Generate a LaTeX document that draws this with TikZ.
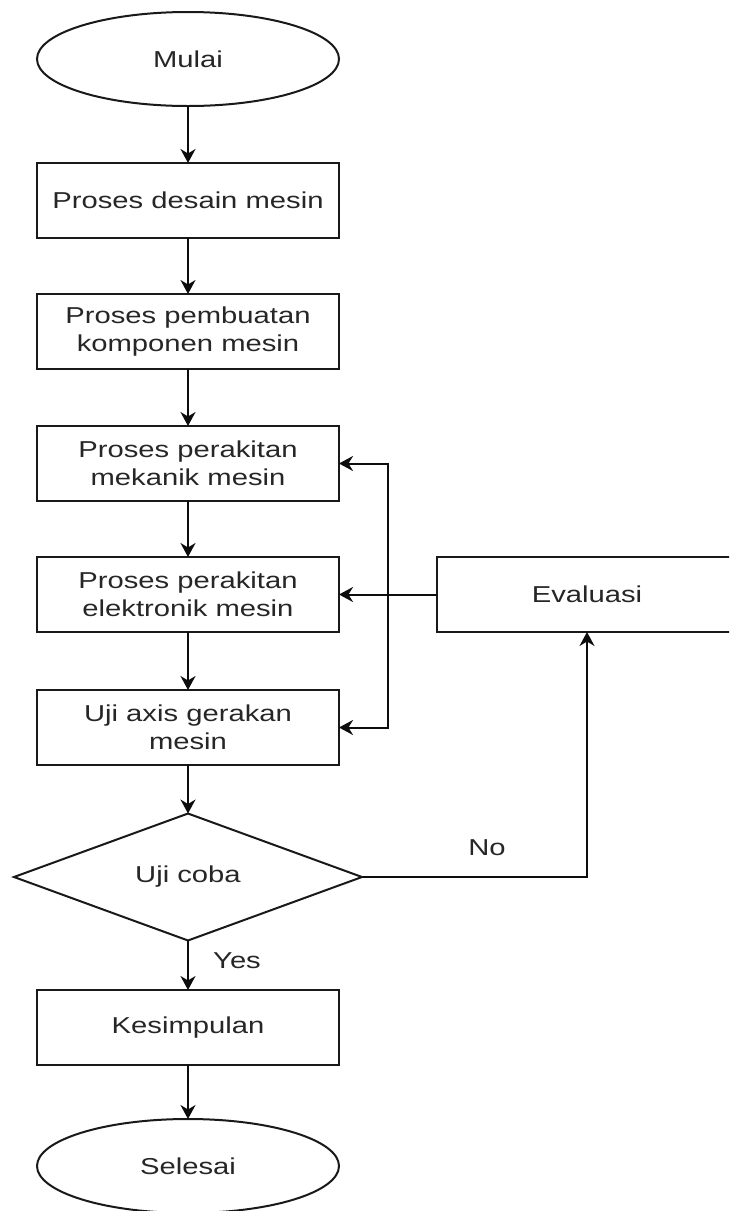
\documentclass[tikz,border=0pt]{standalone}
\usepackage{fontspec}
\setmainfont{Liberation Sans}[FakeStretch=1.27]
\usetikzlibrary{shapes.geometric,arrows.meta}
\begin{document}
\begin{tikzpicture}[x=1pt,y=-1pt,
  every node/.style={font=\fontsize{23}{28.5}\selectfont, text=black!85},
  base/.style={draw=black!90, line width=2pt, inner sep=0pt, outer sep=0pt, align=center},
  procbox/.style={base, rectangle, minimum width=302pt, minimum height=75pt},
  termin/.style={base, ellipse, minimum width=302pt, minimum height=94pt},
  decide/.style={base, diamond, minimum width=348pt, minimum height=112pt},
  tip/.style={Stealth[length=14pt,width=15pt,inset=4.5pt]},
  arr/.style={line width=2pt, draw=black!95, -{Stealth[length=14pt,width=15pt,inset=4.5pt]}},
  conn/.style={line width=2pt, draw=black!95}
]
\useasboundingbox (0,0) rectangle (729,1211);
\clip (0,0) rectangle (729,1211);
\node[termin] (start) at (188,59) {Mulai};
\node[procbox] (b1) at (188,200.5) {Proses desain mesin};
\node[procbox] (b2) at (188,331.5) {Proses pembuatan\\komponen mesin};
\node[procbox] (b3) at (188,463.5) {Proses perakitan\\mekanik mesin};
\node[procbox] (b4) at (188,594.5) {Proses perakitan\\elektronik mesin};
\node[procbox] (b5) at (188,727.5) {Uji axis gerakan\\mesin};
\node[decide] (dec) at (188,877) {Uji coba};
\node[procbox] (b6) at (188,1027.5) {Kesimpulan};
\node[termin] (end) at (188,1166) {Selesai};
\node[procbox, minimum width=300pt] (eval) at (587,594.5) {Evaluasi};
\coordinate (jx) at (388,0);

\draw[arr] (start) -- (b1);
\draw[arr] (b1) -- (b2);
\draw[arr] (b2) -- (b3);
\draw[arr] (b3) -- (b4);
\draw[arr] (b4) -- (b5);
\draw[arr] (b5) -- (dec);
\draw[arr] (dec) -- (b6);
\node (yes) at (237,961) {Yes};
\draw[arr] (b6) -- (end);
\draw[arr] (dec.east) -| (eval.south);
\node (no) at (487,848) {No};
\draw[arr] (eval.west) -- (b4.east);
\draw[conn, {Stealth[length=14pt,width=15pt,inset=4.5pt]}-{Stealth[length=14pt,width=15pt,inset=4.5pt]}]
  (b3.east) -- (b3.east -| jx) -- (b5.east -| jx) -- (b5.east);
\end{tikzpicture}
\end{document}
